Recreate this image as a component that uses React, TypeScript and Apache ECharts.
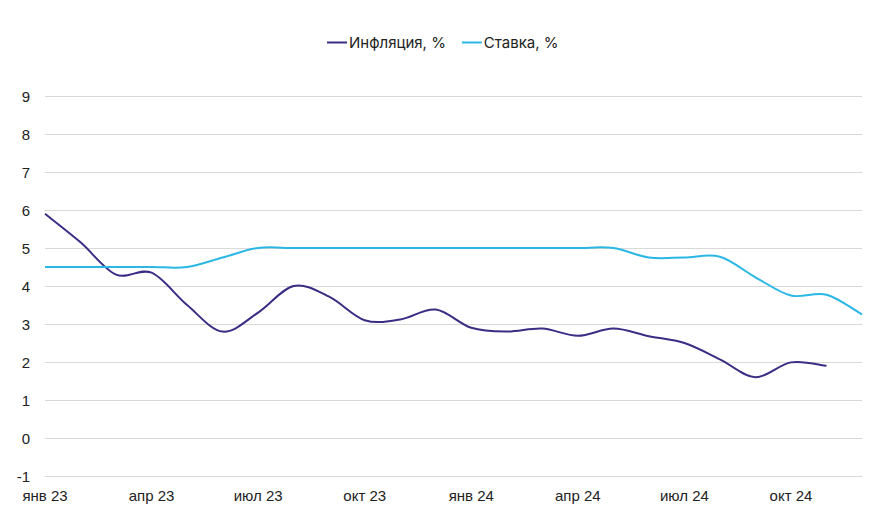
import React, { useEffect, useRef } from "react";
import * as echarts from "echarts";

const months = [
  "янв 23", "фев 23", "мар 23", "апр 23", "май 23", "июн 23", "июл 23", "авг 23", "сен 23", "окт 23", "ноя 23", "дек 23",
  "янв 24", "фев 24", "мар 24", "апр 24", "май 24", "июн 24", "июл 24", "авг 24", "сен 24", "окт 24", "ноя 24", "дек 24",
];
const inflation: (number | null)[] = [5.9, 5.15, 4.3, 4.35, 3.5, 2.8, 3.3, 4.0, 3.72, 3.1, 3.12, 3.38, 2.9, 2.8, 2.88, 2.69, 2.88, 2.68, 2.5, 2.07, 1.6, 1.99, 1.9, null];
const rate: (number | null)[] = [4.5, 4.5, 4.5, 4.5, 4.5, 4.75, 5.0, 5.0, 5.0, 5.0, 5.0, 5.0, 5.0, 5.0, 5.0, 5.0, 5.0, 4.75, 4.75, 4.77, 4.23, 3.75, 3.77, 3.25];
const yMin = -1;
const yMax = 9;

const INF_COLOR = "#3b2c84";
const RATE_COLOR = "#2ab7e3";

function makeCurveSeries(name: string, values: (number | null)[], color: string) {
  const data = values
    .map((v, i) => (v == null ? null : [i, v]))
    .filter((d) => d !== null) as number[][];
  return {
    name,
    type: "custom",
    color,
    itemStyle: { color },
    data,
    encode: { x: 0, y: 1 },
    renderItem: (params: any, api: any) => {
      if (params.dataIndex !== 0) return null;
      const pts = data.map((d) => api.coord([d[0], d[1]]));
      let path = `M${pts[0][0]},${pts[0][1]}`;
      for (let i = 0; i < pts.length - 1; i++) {
        const p0 = pts[Math.max(0, i - 1)];
        const p1 = pts[i];
        const p2 = pts[i + 1];
        const p3 = pts[Math.min(pts.length - 1, i + 2)];
        const c1x = p1[0] + (p2[0] - p0[0]) / 6;
        const c1y = p1[1] + (p2[1] - p0[1]) / 6;
        const c2x = p2[0] - (p3[0] - p1[0]) / 6;
        const c2y = p2[1] - (p3[1] - p1[1]) / 6;
        path += ` C${c1x},${c1y} ${c2x},${c2y} ${p2[0]},${p2[1]}`;
      }
      return {
        type: "path",
        shape: { pathData: path },
        style: { stroke: color, lineWidth: 2, fill: "none" },
        silent: true,
      };
    },
  };
}

export default function App() {
  const ref = useRef<HTMLDivElement>(null);
  useEffect(() => {
    if (!ref.current) return;
    const chart = echarts.init(ref.current, undefined, { renderer: "svg" });
    chart.setOption({
      animation: false,
      backgroundColor: "#ffffff",
      textStyle: { fontFamily: "Inter, 'Noto Sans', sans-serif" },
      legend: {
        top: 30,
        left: 322,
        itemWidth: 20,
        itemHeight: 2,
        itemGap: 16,
        icon: "rect",
        textStyle: { color: "#222", fontSize: 15, fontFamily: "Inter, sans-serif", padding: [0, 0, 0, -3] },
        data: ["Инфляция, %", "Ставка, %"],
      },
      grid: { left: 45, right: 20, top: 96, bottom: 39 },
      xAxis: {
        type: "category",
        data: months,
        boundaryGap: false,
        axisLine: { show: false },
        axisTick: { show: false },
        axisLabel: {
          interval: 2,
          margin: 12,
          color: "#222",
          fontSize: 15,
          fontFamily: "'Liberation Sans Narrow', 'Arial Narrow', sans-serif",
        },
        splitLine: { show: false },
      },
      yAxis: {
        type: "value",
        min: yMin,
        max: yMax,
        interval: 1,
        axisLine: { show: false },
        axisTick: { show: false },
        axisLabel: { margin: 15, color: "#222", fontSize: 15, fontFamily: "'Liberation Sans', Arial, sans-serif" },
        splitLine: { lineStyle: { color: "#d9d9d9", width: 1 } },
      },
      series: [
        makeCurveSeries("Инфляция, %", inflation, INF_COLOR),
        makeCurveSeries("Ставка, %", rate, RATE_COLOR),
      ],
    });
    return () => chart.dispose();
  }, []);
  return <div ref={ref} style={{ width: 882, height: 515, margin: -8 }} />;
}
